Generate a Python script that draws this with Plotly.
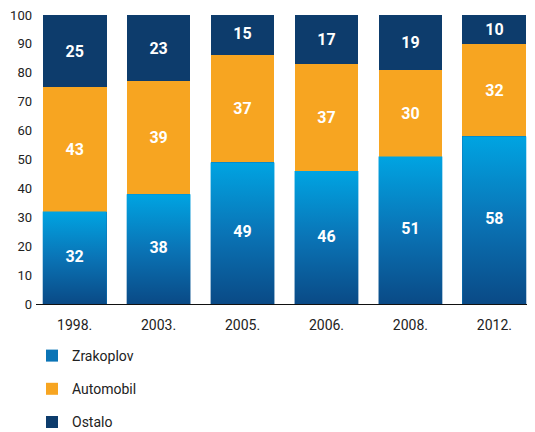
import plotly.graph_objects as go

years = ["1998.", "2003.", "2005.", "2006.", "2008.", "2012."]
zrakoplov = [32, 38, 49, 46, 51, 58]
automobil = [43, 39, 37, 37, 30, 32]
ostalo = [25, 23, 15, 17, 19, 10]
yticks = [0, 10, 20, 30, 40, 50, 60, 70, 80, 90, 100]

FONT = "Roboto, Liberation Sans, sans-serif"
BLUE_DARK = "#0a4a86"
BLUE_MID = "#0a74b6"
BLUE_LIGHT = "#00a4e2"
ORANGE = "#f7a521"
NAVY = "#0d3c6c"
W = 0.76
FIG_W, FIG_H = 527, 424

idx = list(range(len(years)))
fig = go.Figure()

lab_font = dict(family=FONT, size=16, color="white", weight="bold")

fig.add_trace(go.Bar(x=idx, y=zrakoplov, width=W, name="Zrakoplov",
                     marker=dict(color=BLUE_MID, line=dict(width=0)),
                     legendgroup="a", hoverinfo="y"))
fig.add_trace(go.Bar(x=idx, y=automobil, width=W, name="Automobil",
                     marker=dict(color=ORANGE, line=dict(width=0)),
                     text=automobil, textposition="inside", insidetextanchor="middle",
                     textfont=lab_font, legendgroup="b", hoverinfo="y"))
fig.add_trace(go.Bar(x=idx, y=ostalo, width=W, name="Ostalo",
                     marker=dict(color=NAVY, line=dict(width=0)),
                     text=ostalo, textposition="inside", insidetextanchor="middle",
                     textfont=lab_font, legendgroup="c", hoverinfo="y"))

# gradient overlay for the Zrakoplov bars
for i, v in zip(idx, zrakoplov):
    fig.add_trace(go.Scatter(
        x=[i - W / 2, i + W / 2, i + W / 2, i - W / 2, i - W / 2],
        y=[0, 0, v, v, 0], mode="none", fill="toself",
        fillgradient=dict(type="vertical",
                          colorscale=[[0, BLUE_DARK], [0.5, BLUE_MID], [1, BLUE_LIGHT]]),
        showlegend=False, hoverinfo="skip"))

fig.add_trace(go.Scatter(
    x=idx, y=[v / 2 for v in zrakoplov], mode="text", text=[str(v) for v in zrakoplov],
    textfont=lab_font, showlegend=False, hoverinfo="skip"))

fig.update_layout(
    width=FIG_W, height=FIG_H,
    margin=dict(l=28, r=2, t=7, b=128, autoexpand=False),
    barmode="stack",
    plot_bgcolor="white", paper_bgcolor="white",
    font=dict(family=FONT, size=14, color="#222222"),
    xaxis=dict(range=[-0.46, 5.46], tickvals=idx, ticktext=years,
               showline=True, linecolor="#111111", linewidth=1,
               showgrid=False, zeroline=False, ticks="", ticklabelstandoff=8,
               tickfont=dict(family=FONT, size=14, color="#222222")),
    yaxis=dict(range=[0, 100], tickvals=yticks, showgrid=False, zeroline=False,
               showline=False, ticks="", ticklabelstandoff=3,
               ticklabeloverflow="allow",
               tickfont=dict(family=FONT, size=13, color="#222222")),
    legend=dict(x=24 / FIG_W, y=(FIG_H - 332) / FIG_H, xanchor="left", yanchor="top",
                xref="container", yref="container",
                traceorder="grouped", tracegroupgap=12,
                font=dict(family=FONT, size=14, color="#222222"),
                bgcolor="rgba(0,0,0,0)"),
    showlegend=True,
)

fig.write_html("out.html")
